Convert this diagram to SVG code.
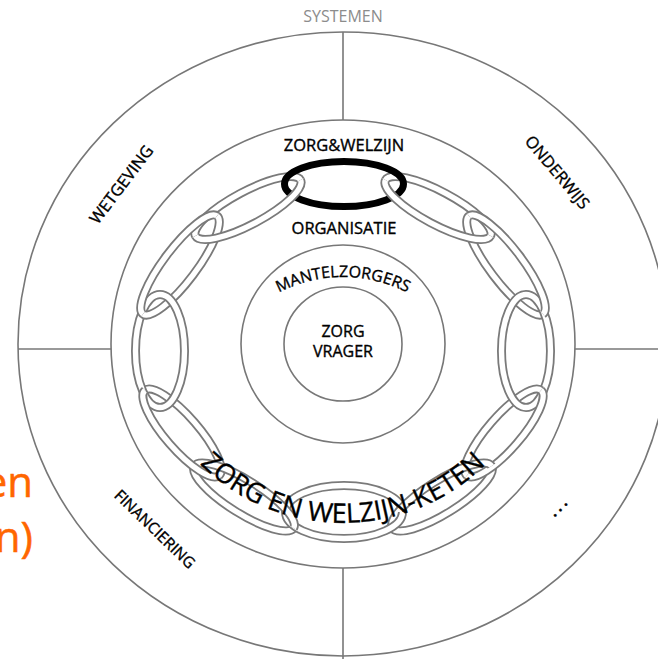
<svg xmlns="http://www.w3.org/2000/svg" width="658" height="659" viewBox="0 0 658 659">
<style>
.ring{fill:none;stroke:#777;stroke-width:1.6}
.lg{fill:none;stroke:#7a7a7a;stroke-width:9}
.lw{fill:none;stroke:#fff;stroke-width:5.4}
.lb{fill:none;stroke:#000;stroke-width:7}
.t{font-family:"Open Sans","Liberation Sans",sans-serif;fill:#000;stroke:#000;stroke-width:0.35}
.c{text-anchor:middle}
</style>
<defs>
<path id="arcM" d="M221.8 347A140 140 0 0 1 464.2 347"/>
<path id="arcK" d="M143.1 355.3A203 203 0 0 0 542.9 355.3"/>
</defs>
<rect width="658" height="659" fill="#fff"/>
<text id="orange-text" font-family="'Open Sans','Liberation Sans',sans-serif" font-size="42" fill="#FF6600" stroke="#FF6600" stroke-width="0.5" text-anchor="end"><tspan x="33" y="497">en</tspan><tspan x="33" y="552">n)</tspan></text>
<text id="label-systemen" class="t c" x="343" y="22" font-size="16" style="fill:#8c8c8c;stroke:none">SYSTEMEN</text>
<g id="systems-ring">
<ellipse class="ring" cx="343" cy="344" rx="325" ry="312"/>
<ellipse class="ring" cx="343" cy="344" rx="232" ry="224"/>
<line class="ring" x1="343" y1="32" x2="343" y2="120"/>
<line class="ring" x1="343" y1="568" x2="343" y2="659"/>
<line class="ring" x1="18" y1="349" x2="111" y2="349"/>
<line class="ring" x1="575" y1="349" x2="658" y2="349"/>
</g>
<g id="system-labels">
<text class="t c" font-size="16.5" transform="translate(126,188) rotate(-53)">WETGEVING</text>
<text class="t c" font-size="16.5" transform="translate(553,176) rotate(50)">ONDERWIJS</text>
<text class="t c" font-size="15.5" transform="translate(151,533) rotate(44)">FINANCIERING</text>
<text class="t c" font-size="21" letter-spacing="2" transform="translate(562,510) rotate(-45)">...</text>
</g>
<g id="mantelzorgers">
<ellipse class="ring" cx="343" cy="344" rx="102" ry="99"/>
<text class="t" font-size="16"><textPath href="#arcM" startOffset="50%" text-anchor="middle">MANTELZORGERS</textPath></text>
</g>
<g id="zorgvrager">
<ellipse class="ring" cx="343" cy="344" rx="59" ry="57"/>
<text class="t c" font-size="16"><tspan x="343" y="337">ZORG</tspan><tspan x="343" y="357">VRAGER</tspan></text>
</g>
<g id="organisatie-labels">
<text class="t c" x="344" y="151" font-size="16.5">ZORG&amp;WELZIJN</text>
<text class="t c" x="344" y="234" font-size="16.5">ORGANISATIE</text>
</g>
<g id="chain-under">
<g transform="translate(344,184)"><path class="lb" d="M-59.5 0A59.5 22.5 0 0 0 59.5 0"/></g>
<g transform="translate(438,208) rotate(28)"><path class="lg" d="M-59.5 0A59.5 16.5 0 0 1 59.5 0"/><path class="lw" d="M-59.5 0A59.5 16.5 0 0 1 59.5 0"/></g>
<g transform="translate(506,265) rotate(53)"><path class="lg" d="M-61.5 0A61.5 16.5 0 0 0 61.5 0"/><path class="lw" d="M-61.5 0A61.5 16.5 0 0 0 61.5 0"/></g>
<g transform="translate(526,351) rotate(90)"><path class="lg" d="M-56.5 0A56.5 24.5 0 0 1 56.5 0"/><path class="lw" d="M-56.5 0A56.5 24.5 0 0 1 56.5 0"/></g>
<g transform="translate(504,433) rotate(131)"><path class="lg" d="M-56.5 0A56.5 16.5 0 0 0 56.5 0"/><path class="lw" d="M-56.5 0A56.5 16.5 0 0 0 56.5 0"/></g>
<g transform="translate(442,497) rotate(148)"><path class="lg" d="M-58.5 0A58.5 16.5 0 0 1 58.5 0"/><path class="lw" d="M-58.5 0A58.5 16.5 0 0 1 58.5 0"/></g>
<g transform="translate(344,512) rotate(180)"><path class="lg" d="M-58.5 0A58.5 26.5 0 0 0 58.5 0"/><path class="lw" d="M-58.5 0A58.5 26.5 0 0 0 58.5 0"/></g>
<g transform="translate(244,497) rotate(-148)"><path class="lg" d="M-58.5 0A58.5 16.5 0 0 1 58.5 0"/><path class="lw" d="M-58.5 0A58.5 16.5 0 0 1 58.5 0"/></g>
<g transform="translate(182,433) rotate(-131)"><path class="lg" d="M-56.5 0A56.5 16.5 0 0 0 56.5 0"/><path class="lw" d="M-56.5 0A56.5 16.5 0 0 0 56.5 0"/></g>
<g transform="translate(160,351) rotate(-90)"><path class="lg" d="M-56.5 0A56.5 24.5 0 0 1 56.5 0"/><path class="lw" d="M-56.5 0A56.5 24.5 0 0 1 56.5 0"/></g>
<g transform="translate(180,265) rotate(-53)"><path class="lg" d="M-61.5 0A61.5 16.5 0 0 0 61.5 0"/><path class="lw" d="M-61.5 0A61.5 16.5 0 0 0 61.5 0"/></g>
<g transform="translate(248,208) rotate(-28)"><path class="lg" d="M-59.5 0A59.5 16.5 0 0 1 59.5 0"/><path class="lw" d="M-59.5 0A59.5 16.5 0 0 1 59.5 0"/></g>
</g>
<g id="chain-over">
<g transform="translate(344,184)"><path class="lb" d="M-59.5 0A59.5 22.5 0 0 1 59.5 0"/></g>
<g transform="translate(438,208) rotate(28)"><path class="lg" d="M-59.5 0A59.5 16.5 0 0 0 59.5 0"/><path class="lw" d="M-59.5 0A59.5 16.5 0 0 0 59.5 0"/></g>
<g transform="translate(506,265) rotate(53)"><path class="lg" d="M-61.5 0A61.5 16.5 0 0 1 61.5 0"/><path class="lw" d="M-61.5 0A61.5 16.5 0 0 1 61.5 0"/></g>
<g transform="translate(526,351) rotate(90)"><path class="lg" d="M-56.5 0A56.5 24.5 0 0 0 56.5 0"/><path class="lw" d="M-56.5 0A56.5 24.5 0 0 0 56.5 0"/></g>
<g transform="translate(504,433) rotate(131)"><path class="lg" d="M-56.5 0A56.5 16.5 0 0 1 56.5 0"/><path class="lw" d="M-56.5 0A56.5 16.5 0 0 1 56.5 0"/></g>
<g transform="translate(442,497) rotate(148)"><path class="lg" d="M-58.5 0A58.5 16.5 0 0 0 58.5 0"/><path class="lw" d="M-58.5 0A58.5 16.5 0 0 0 58.5 0"/></g>
<g transform="translate(344,512) rotate(180)"><path class="lg" d="M-58.5 0A58.5 26.5 0 0 1 58.5 0"/><path class="lw" d="M-58.5 0A58.5 26.5 0 0 1 58.5 0"/></g>
<g transform="translate(244,497) rotate(-148)"><path class="lg" d="M-58.5 0A58.5 16.5 0 0 0 58.5 0"/><path class="lw" d="M-58.5 0A58.5 16.5 0 0 0 58.5 0"/></g>
<g transform="translate(182,433) rotate(-131)"><path class="lg" d="M-56.5 0A56.5 16.5 0 0 1 56.5 0"/><path class="lw" d="M-56.5 0A56.5 16.5 0 0 1 56.5 0"/></g>
<g transform="translate(160,351) rotate(-90)"><path class="lg" d="M-56.5 0A56.5 24.5 0 0 0 56.5 0"/><path class="lw" d="M-56.5 0A56.5 24.5 0 0 0 56.5 0"/></g>
<g transform="translate(180,265) rotate(-53)"><path class="lg" d="M-61.5 0A61.5 16.5 0 0 1 61.5 0"/><path class="lw" d="M-61.5 0A61.5 16.5 0 0 1 61.5 0"/></g>
<g transform="translate(248,208) rotate(-28)"><path class="lg" d="M-59.5 0A59.5 16.5 0 0 0 59.5 0"/><path class="lw" d="M-59.5 0A59.5 16.5 0 0 0 59.5 0"/></g>
</g>
<g id="chain-label">
<text class="t" font-size="27"><textPath href="#arcK" startOffset="50%" text-anchor="middle">ZORG EN WELZIJN-KETEN</textPath></text>
</g>
</svg>
